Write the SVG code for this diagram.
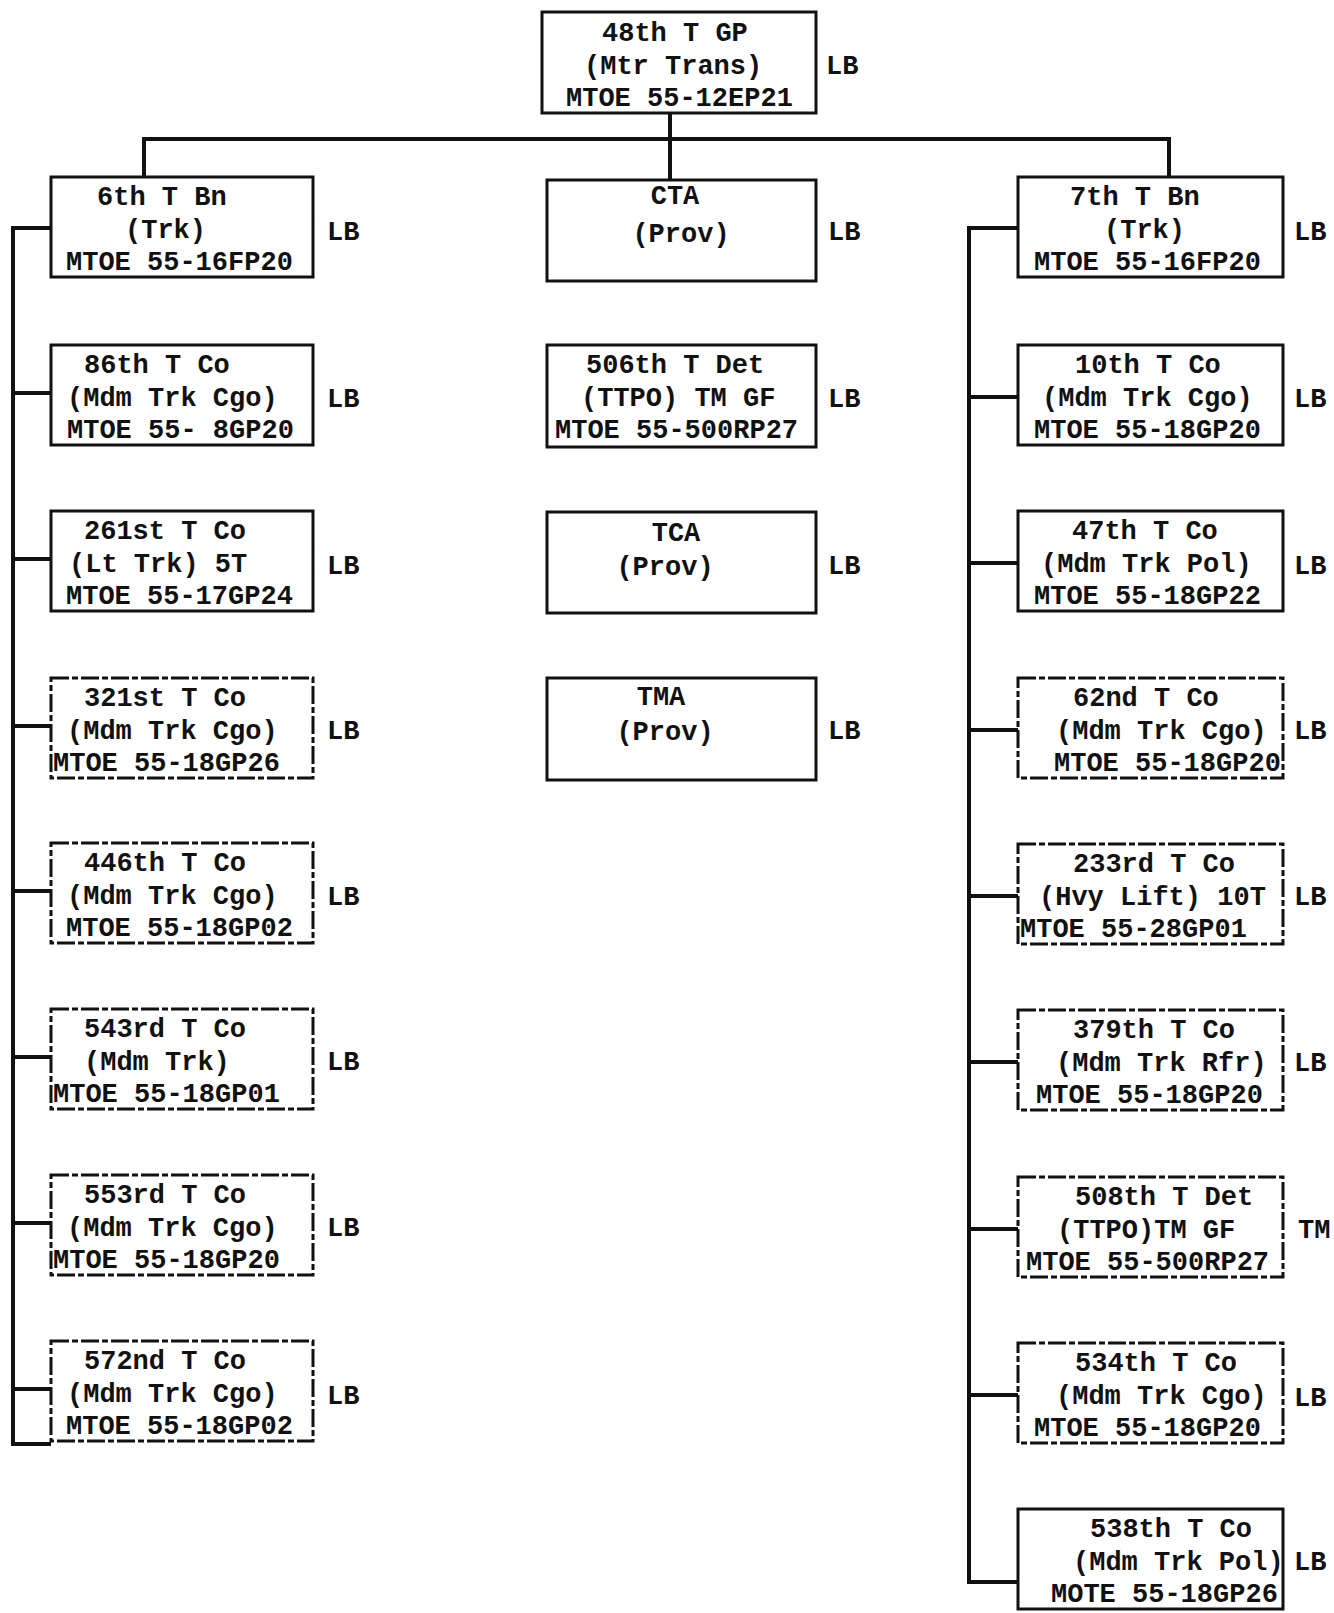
<svg xmlns="http://www.w3.org/2000/svg" width="1334" height="1613" viewBox="0 0 1334 1613">
<style>
text{font-family:"Liberation Mono","DejaVu Sans Mono",monospace;font-weight:bold;font-size:27px;fill:#111}
.box{fill:none;stroke:#111;stroke-width:3}
.dash{fill:none;stroke:#111;stroke-width:3;stroke-dasharray:18 3 6 3}
.ln{fill:none;stroke:#111;stroke-width:4}
</style>
<rect width="1334" height="1613" fill="#fff"/>
<g id="connectors">
<path class="ln" d="M670 113 V180"/>
<path class="ln" d="M144 177 V139 H1169 V177"/>
<path class="ln" d="M51 228 H13 V1444 H51"/>
<path class="ln" d="M13 393 H51 M13 559 H51 M13 726 H51 M13 891 H51 M13 1057 H51 M13 1223 H51 M13 1389 H51"/>
<path class="ln" d="M1018 228 H969 V1582 H1018"/>
<path class="ln" d="M969 397 H1018 M969 563 H1018 M969 730 H1018 M969 896 H1018 M969 1062 H1018 M969 1229 H1018 M969 1395 H1018"/>
</g>
<g id="n48">
<rect class="box" x="542" y="12" width="274" height="101"/>
<text x="602" y="41">48th T GP</text>
<text x="584" y="74">(Mtr Trans)</text>
<text x="566" y="106">MTOE 55-12EP21</text>
<text x="826" y="74">LB</text>
</g>
<g id="n6bn">
<rect class="box" x="51" y="177" width="262" height="100"/>
<text x="97" y="205">6th T Bn</text>
<text x="125" y="238">(Trk)</text>
<text x="66" y="270">MTOE 55-16FP20</text>
<text x="327" y="240">LB</text>
</g>
<g id="n86">
<rect class="box" x="51" y="345" width="262" height="100"/>
<text x="84" y="373">86th T Co</text>
<text x="67" y="406">(Mdm Trk Cgo)</text>
<text x="67" y="438">MTOE 55- 8GP20</text>
<text x="327" y="407">LB</text>
</g>
<g id="n261">
<rect class="box" x="51" y="511" width="262" height="100"/>
<text x="84" y="539">261st T Co</text>
<text x="69" y="572">(Lt Trk) 5T</text>
<text x="66" y="604">MTOE 55-17GP24</text>
<text x="327" y="574">LB</text>
</g>
<g id="n321">
<rect class="dash" x="51" y="678" width="262" height="100"/>
<text x="84" y="706">321st T Co</text>
<text x="67" y="739">(Mdm Trk Cgo)</text>
<text x="53" y="771">MTOE 55-18GP26</text>
<text x="327" y="739">LB</text>
</g>
<g id="n446">
<rect class="dash" x="51" y="843" width="262" height="100"/>
<text x="84" y="871">446th T Co</text>
<text x="67" y="904">(Mdm Trk Cgo)</text>
<text x="66" y="936">MTOE 55-18GP02</text>
<text x="327" y="905">LB</text>
</g>
<g id="n543">
<rect class="dash" x="51" y="1009" width="262" height="100"/>
<text x="84" y="1037">543rd T Co</text>
<text x="84" y="1070">(Mdm Trk)</text>
<text x="53" y="1102">MTOE 55-18GP01</text>
<text x="327" y="1070">LB</text>
</g>
<g id="n553">
<rect class="dash" x="51" y="1175" width="262" height="100"/>
<text x="84" y="1203">553rd T Co</text>
<text x="67" y="1236">(Mdm Trk Cgo)</text>
<text x="53" y="1268">MTOE 55-18GP20</text>
<text x="327" y="1236">LB</text>
</g>
<g id="n572">
<rect class="dash" x="51" y="1341" width="262" height="100"/>
<text x="84" y="1369">572nd T Co</text>
<text x="67" y="1402">(Mdm Trk Cgo)</text>
<text x="66" y="1434">MTOE 55-18GP02</text>
<text x="327" y="1404">LB</text>
</g>
<g id="nCTA">
<rect class="box" x="547" y="180" width="269" height="101"/>
<text x="675" y="204" text-anchor="middle">CTA</text>
<text x="681" y="242" text-anchor="middle">(Prov)</text>
<text x="828" y="240">LB</text>
</g>
<g id="n506">
<rect class="box" x="547" y="345" width="269" height="102"/>
<text x="586" y="373">506th T Det</text>
<text x="581" y="406">(TTPO) TM GF</text>
<text x="555" y="438">MTOE 55-500RP27</text>
<text x="828" y="407">LB</text>
</g>
<g id="nTCA">
<rect class="box" x="547" y="512" width="269" height="101"/>
<text x="676" y="541" text-anchor="middle">TCA</text>
<text x="665" y="575" text-anchor="middle">(Prov)</text>
<text x="828" y="574">LB</text>
</g>
<g id="nTMA">
<rect class="box" x="547" y="678" width="269" height="102"/>
<text x="661" y="705" text-anchor="middle">TMA</text>
<text x="665" y="740" text-anchor="middle">(Prov)</text>
<text x="828" y="739">LB</text>
</g>
<g id="n7bn">
<rect class="box" x="1018" y="177" width="265" height="100"/>
<text x="1070" y="205">7th T Bn</text>
<text x="1104" y="238">(Trk)</text>
<text x="1034" y="270">MTOE 55-16FP20</text>
<text x="1294" y="240">LB</text>
</g>
<g id="n10">
<rect class="box" x="1018" y="345" width="265" height="100"/>
<text x="1075" y="373">10th T Co</text>
<text x="1042" y="406">(Mdm Trk Cgo)</text>
<text x="1034" y="438">MTOE 55-18GP20</text>
<text x="1294" y="407">LB</text>
</g>
<g id="n47">
<rect class="box" x="1018" y="511" width="265" height="100"/>
<text x="1072" y="539">47th T Co</text>
<text x="1041" y="572">(Mdm Trk Pol)</text>
<text x="1034" y="604">MTOE 55-18GP22</text>
<text x="1294" y="574">LB</text>
</g>
<g id="n62">
<rect class="dash" x="1018" y="678" width="265" height="100"/>
<text x="1073" y="706">62nd T Co</text>
<text x="1056" y="739">(Mdm Trk Cgo)</text>
<text x="1054" y="771">MTOE 55-18GP20</text>
<text x="1294" y="739">LB</text>
</g>
<g id="n233">
<rect class="dash" x="1018" y="844" width="265" height="100"/>
<text x="1073" y="872">233rd T Co</text>
<text x="1039" y="905">(Hvy Lift) 10T</text>
<text x="1020" y="937">MTOE 55-28GP01</text>
<text x="1294" y="905">LB</text>
</g>
<g id="n379">
<rect class="dash" x="1018" y="1010" width="265" height="100"/>
<text x="1073" y="1038">379th T Co</text>
<text x="1056" y="1071">(Mdm Trk Rfr)</text>
<text x="1036" y="1103">MTOE 55-18GP20</text>
<text x="1294" y="1071">LB</text>
</g>
<g id="n508">
<rect class="dash" x="1018" y="1177" width="265" height="100"/>
<text x="1075" y="1205">508th T Det</text>
<text x="1057" y="1238">(TTPO)TM GF</text>
<text x="1026" y="1270">MTOE 55-500RP27</text>
<text x="1298" y="1238">TM</text>
</g>
<g id="n534">
<rect class="dash" x="1018" y="1343" width="265" height="100"/>
<text x="1075" y="1371">534th T Co</text>
<text x="1056" y="1404">(Mdm Trk Cgo)</text>
<text x="1034" y="1436">MTOE 55-18GP20</text>
<text x="1294" y="1406">LB</text>
</g>
<g id="n538">
<rect class="box" x="1018" y="1509" width="265" height="100"/>
<text x="1090" y="1537">538th T Co</text>
<text x="1073" y="1570">(Mdm Trk Pol)</text>
<text x="1051" y="1602">MOTE 55-18GP26</text>
<text x="1294" y="1570">LB</text>
</g>
</svg>
